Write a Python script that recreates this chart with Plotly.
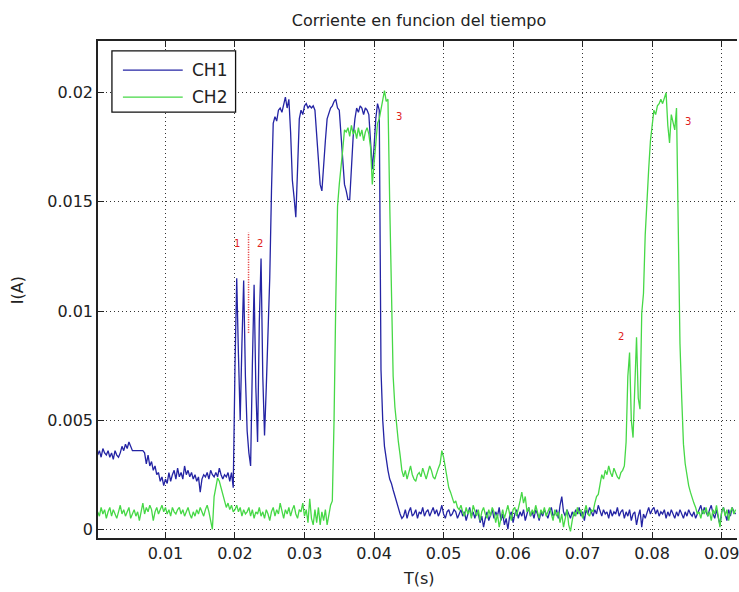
import plotly.graph_objects as go

# ---------------- data (current in mA, sampled every 0.25 ms) ----------------
t_start = 0.00025
t_step = 0.00025

ch1_mA = (
    # 0.00025 .. 0.01975
    [3.4, 3.6, 3.3, 3.7, 3.5, 3.4, 3.6, 3.3,
     3.5, 3.2, 3.6, 3.4, 3.3, 3.5, 3.8, 3.6,
     3.9, 3.7, 4.0, 3.8,
     3.6, 3.6, 3.6, 3.6, 3.6, 3.6, 3.6, 3.5,
     3.0, 3.4, 2.9, 3.1, 2.7, 2.9, 2.5, 2.6, 2.2, 2.4, 2.0, 2.3,
     2.1, 2.6, 2.2, 2.5, 2.7, 2.3, 2.8, 2.4, 2.6, 2.3, 2.9, 2.5, 2.7, 2.4, 2.6, 2.3, 2.5, 2.2, 2.4, 1.7,
     2.3, 2.5, 2.4, 2.6, 2.3, 2.7, 2.5, 2.4, 2.6, 2.4, 2.8, 2.5, 2.3, 2.5, 2.4, 2.6, 2.2, 2.6, 1.9]
    # 0.020 .. 0.044
    + [7.4, 11.5, 8.0, 5.0, 8.5, 11.4, 7.0, 4.5, 3.5, 2.9, 7.5, 11.2, 6.5, 4.0, 9.5, 12.4, 7.0, 4.3, 6.5, 9.0,
       11.5, 15.5, 18.6, 18.9, 18.7, 19.2, 19.3, 19.1, 19.4, 19.8, 19.3, 19.7, 18.2, 16.0, 15.2, 14.3, 16.5, 18.8, 19.2, 19.0,
       19.4, 19.5, 19.3, 19.4, 19.3, 19.4, 19.2, 18.0, 16.5, 15.8, 15.5, 16.8, 17.8, 18.8, 19.1, 19.3, 19.4, 19.6, 19.7, 19.3,
       19.2, 18.0, 16.5, 15.8, 15.5, 15.1, 15.1, 16.8, 18.0, 18.8, 19.3, 19.1, 19.4, 19.3, 19.0, 19.3, 19.2, 19.0, 17.8, 16.5,
       17.5, 18.8, 19.5, 19.2, 7.3, 5.0, 3.8, 3.1, 2.7, 2.3, 2.1, 1.8, 1.5, 1.2, 0.9, 0.7, 0.5]
    # 0.04425 .. 0.092
    + [0.6, 0.9, 0.5, 0.8, 1.0, 0.6, 0.7, 0.9, 0.5, 0.8, 0.7, 1.0, 0.6, 0.8, 0.9, 0.6,
       0.8, 1.0, 0.7, 0.9, 0.6, 0.8, 1.1, 0.7, 0.5, 0.8, 0.9, 0.6, 0.7, 0.9, 0.8, 0.5,
       0.7, 0.9, 0.6, 0.8, 0.4, 0.7, 1.0, 0.6, 0.8, 0.5, 0.9, 0.7, 0.3, 0.6, 0.1, 0.5,
       0.8, 0.4, 0.7, 0.9, 0.5, 0.8, 0.6, 1.0, 0.4, 0.7, 0.2, 0.5, 0.0, 0.6, 0.8, 0.3,
       0.7, 0.9, 0.5, 0.8, 0.6, 0.9, 0.4, 0.7, 1.0, 0.6, 0.8, 0.5, 0.9, 0.7, 0.4, 0.8,
       0.6, 0.9, 0.7, 0.5, 0.8, 1.0, 0.6, 0.7, 0.9, 0.5, 1.1, 1.5, 0.8, 0.6, 0.9, 0.7,
       0.5, 0.8, 0.6, 0.9, 0.7, 1.0, 0.6, 0.8, 0.4, 0.9, 0.7, 1.0, 0.8, 0.6, 0.9, 0.7,
       1.1, 0.8, 0.6, 0.9, 0.7, 0.8, 0.5, 0.9, 0.6, 0.8, 0.7, 1.0, 0.6, 0.8, 0.9, 0.5,
       0.8, 0.6, 0.9, 0.4, 0.7, 0.8, 0.2, 0.6, 0.9, 0.1, 0.7, 0.5, 0.8, 1.0, 0.7, 0.9,
       1.0, 0.7, 0.9, 0.6, 0.8, 0.7, 0.9, 0.5, 0.8, 0.6, 0.9, 0.7, 0.5, 0.8, 0.6, 0.9,
       0.7, 0.5, 0.8, 0.6, 0.9, 0.7, 0.6, 0.8, 0.5, 0.7, 0.9, 1.1, 0.7, 1.0, 0.8, 0.6,
       0.9, 1.1, 0.7, 0.5, 0.9, 0.6, 0.2, 0.8, 1.0, 0.7, 0.4, 0.9, 0.6, 1.0, 0.8, 0.7]
)

ch2_mA = (
    # 0.00025 .. 0.01975
    [0.8, 0.6, 1.0, 0.7, 0.9, 0.5, 0.8, 1.0, 0.6, 0.9, 0.7, 0.5, 0.8, 1.1, 0.7, 0.9,
     0.6, 0.8, 1.0, 0.5, 0.7, 0.9, 0.6, 0.8, 0.4, 0.9, 1.2, 0.7, 1.0, 0.8, 1.1, 0.9,
     0.4, 0.8, 1.0, 0.7, 0.9, 1.1, 0.8, 1.0, 0.7, 0.9, 0.6, 1.0, 0.8, 0.7, 0.9, 1.0,
     0.7, 0.9, 0.6, 0.8, 1.0, 0.7, 0.5, 0.8, 0.6, 0.9, 0.7, 1.0, 0.8, 0.6, 0.9, 1.1,
     0.8, 0.3, 0.0, 1.5, 2.0, 2.35, 2.2, 1.9, 1.5, 1.2, 1.0, 1.2, 0.9, 1.1, 0.8]
    # 0.020 .. 0.034
    + [0.9, 1.1, 0.8, 1.0, 0.6, 0.9, 0.7, 0.8, 1.0, 0.6, 0.9, 0.5, 0.8, 0.7, 1.0, 0.6,
       0.8, 0.5, 0.9, 0.7, 0.4, 0.8, 1.0, 0.6, 0.9, 0.7, 1.2, 0.8, 0.5, 0.9, 0.7, 1.0,
       0.6, 0.9, 1.1, 0.7, 0.5, 0.9, 0.8, 1.2, 0.6, 0.9, 0.3, 1.4, 0.5, 0.2, 0.9, 0.3,
       1.0, 0.2, 0.8, 0.4, 0.9, 0.2, 0.7, 1.1, 1.3]
    # 0.03425 .. 0.044
    + [5.0, 10.5, 14.8, 15.8, 16.5, 17.4, 18.3, 18.2, 18.4, 18.0, 18.5, 18.1, 18.3, 17.9, 18.4, 18.0,
       18.3, 17.8, 18.2, 18.4, 18.1, 17.5, 15.8, 16.8, 17.8, 18.6, 18.8, 19.3, 19.8, 20.1, 19.6, 19.7,
       15.0, 10.0, 7.0, 5.6, 4.6, 4.0, 3.4, 2.7]
    # 0.04425 .. 0.0525
    + [2.4, 2.7, 2.3, 2.6, 2.9, 2.5, 2.3, 2.2, 2.5, 2.6, 2.4, 2.8, 2.5, 2.3, 2.6, 2.9, 2.7, 2.4, 2.3, 2.6, 2.8, 3.0,
       3.6, 3.3, 2.8, 2.3, 1.9, 1.7, 1.4, 1.2, 1.3, 1.0, 0.9, 1.1]
    # 0.05275 .. 0.072
    + [0.8, 0.6, 1.0, 0.7, 0.9, 0.5, 1.1, 0.8, 0.6, 0.9, 0.4, 0.8, 1.0, 0.7, 0.5, 0.9,
       0.6, 1.0, 0.8, 0.3, 0.7, 0.1, 0.6, 0.9, 0.5, 0.8, 1.1, 0.7, 0.4, 0.9, 1.0, 0.6,
       0.9, 1.3, 1.7, 1.2, 1.5, 0.8, 1.0, 0.6, 0.9, 0.7, 1.1, 0.8, 0.5, 0.9, 0.7, 1.0,
       0.6, 0.8, 1.0, 0.7, 0.4, 0.9, 0.6, 0.8, 0.3, 0.7, 0.1, 0.5, 0.9, 0.2, -0.1, 0.4,
       0.8, 0.6, 1.0, 0.7, 0.9, 0.5, 0.8, 1.1, 0.7, 0.6, 0.9, 0.8, 1.2, 1.5]
    # 0.07225 .. 0.0865
    + [1.6, 2.1, 2.5, 2.3, 2.7, 2.5, 2.9, 2.6, 2.4, 2.8, 2.6, 2.4, 2.3, 2.6, 2.7, 2.9,
       4.0, 7.0, 8.1, 5.0, 4.2, 6.5, 8.8, 6.0, 5.5, 9.9, 10.8, 13.5, 15.2, 16.5, 17.8, 18.4,
       19.2, 19.0, 19.4, 19.5, 19.7, 19.5, 19.8, 20.0, 18.5, 17.7, 19.0, 18.6, 18.3, 19.3,
       14.0, 8.5, 6.0, 3.9, 3.0, 2.4, 2.0, 1.7, 1.4, 1.2, 1.0, 0.7]
    # 0.08675 .. 0.092
    + [0.8, 0.5, 0.9, 0.7, 1.0, 0.6, 0.8, 0.4, 0.9, 0.7, 1.1, 0.5, 0.1, 0.8, 1.0, 0.6,
       0.9, 0.4, 0.8, 1.0, 0.7, 0.9]
)

series_names = ["CH1", "CH2"]
series_colors = ["#2424a4", "#46d846"]

x_ticks = [0.01, 0.02, 0.03, 0.04, 0.05, 0.06, 0.07, 0.08, 0.09]
x_tick_labels = ["0.01", "0.02", "0.03", "0.04", "0.05", "0.06", "0.07", "0.08", "0.09"]
y_ticks = [0, 0.005, 0.01, 0.015, 0.02]
y_tick_labels = ["0", "0.005", "0.01", "0.015", "0.02"]

# red marker labels drawn on the original figure: (text, time, current in mA)
marks = [("1", 0.02023, 13.1), ("2", 0.02353, 13.1), ("3", 0.04362, 18.9),
         ("3", 0.08522, 18.7), ("2", 0.07547, 8.85)]
marker_line = (0.02195, 9.0, 13.6)

# ---------------- figure ----------------
FONT = "DejaVu Sans"
TXT = "#222222"

fig = go.Figure()
for name, vals, col in zip(series_names, [ch1_mA, ch2_mA], series_colors):
    t = [t_start + t_step * i for i in range(len(vals))]
    fig.add_trace(go.Scatter(
        x=t, y=[v / 1000.0 for v in vals], mode="lines", name=name,
        line=dict(color=col, width=1.3), showlegend=False,
    ))

# red annotations
for txt, tx, ty in marks:
    fig.add_annotation(x=tx, y=ty / 1000.0, xref="x", yref="y", text=txt,
                       showarrow=False, font=dict(family=FONT, size=10, color="#e02020"))
fig.add_shape(type="line", xref="x", yref="y",
              x0=marker_line[0], x1=marker_line[0],
              y0=marker_line[1] / 1000.0, y1=marker_line[2] / 1000.0,
              line=dict(color="#e02020", width=1.5, dash="1px,1.5px"))

# manual MATLAB-style legend box
L0, L1 = 0.0218, 0.2153        # box in paper fraction (x)
T0, T1 = 0.98, 0.857           # box in paper fraction (y)
fig.add_shape(type="rect", xref="paper", yref="paper", x0=L0, x1=L1, y0=T1, y1=T0,
              line=dict(color="#111111", width=1.3), fillcolor="white", layer="above")
for i, (name, col) in enumerate(zip(series_names, series_colors)):
    yy = 0.9415 - i * 0.0543
    fig.add_shape(type="line", xref="paper", yref="paper", x0=0.0390, x1=0.1326,
                  y0=yy, y1=yy, line=dict(color=col, width=1.3), layer="above")
    fig.add_annotation(x=0.1435, y=yy, xref="paper", yref="paper", text=name,
                       showarrow=False, xanchor="left", yanchor="middle",
                       font=dict(family=FONT, size=17, color=TXT))

# axis titles
fig.add_annotation(x=0.5023, y=-0.0805, xref="paper", yref="paper", text="T(s)",
                   showarrow=False, xanchor="center", yanchor="middle",
                   font=dict(family=FONT, size=16, color=TXT))
fig.add_annotation(x=-0.1248, y=0.499, xref="paper", yref="paper", text="I(A)",
                   showarrow=False, xanchor="center", yanchor="middle", textangle=-90,
                   font=dict(family=FONT, size=16, color=TXT))

axis_common = dict(
    showgrid=True, gridcolor="#333333", gridwidth=1, griddash="1px,3px",
    zeroline=False, showline=True, linecolor="#222222", linewidth=1.5,
    ticks="inside", ticklen=6, tickcolor="#222222", tickwidth=1.3,
    tickfont=dict(family=FONT, size=16, color=TXT),
)

fig.update_layout(
    width=739, height=592,
    margin=dict(l=98, r=0, t=41, b=54),
    paper_bgcolor="white", plot_bgcolor="white",
    title=dict(text="Corriente en funcion del tiempo", x=0.567, xref="container",
               xanchor="center", y=1 - 20 / 592, yref="container", yanchor="middle",
               font=dict(family=FONT, size=16, color=TXT)),
    xaxis=dict(range=[0.0003, 0.0922], tickvals=x_ticks, ticktext=x_tick_labels,
               mirror="allticks", ticklabeloverflow="allow", **axis_common),
    yaxis=dict(range=[-0.0004, 0.02237], tickvals=y_ticks, ticktext=y_tick_labels,
               mirror=False, **axis_common),
    showlegend=False,
)

fig.write_html("out.html")
